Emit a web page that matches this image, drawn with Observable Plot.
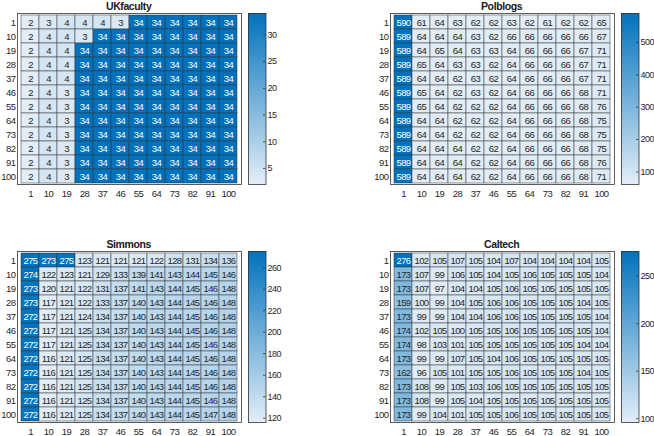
<!DOCTYPE html>
<html>
<head>
<meta charset="utf-8">
<script src="https://cdn.jsdelivr.net/npm/d3@7"></script>
<script src="https://cdn.jsdelivr.net/npm/@observablehq/plot@0.6"></script>
<style>
  html, body { margin: 0; padding: 0; background: #fff; }
  #wrap { position: relative; width: 654px; height: 436px; overflow: hidden; font-family: "Liberation Sans", Arial, sans-serif; }
  .panel { position: absolute; }
  .panel svg { max-width: none !important; }
  .title { position: absolute; font-weight: bold; font-size: 10.5px; letter-spacing: -0.4px; color: #1a1a1a; text-align: center; width: 200px; line-height: 12px; }
</style>
</head>
<body>
<div id="wrap"></div>
<script>
const labels = ["1","10","19","28","37","46","55","64","73","82","91","100"];

const ukfaculty = [
  [2,3,4,4,4,3,34,34,34,34,34,34],
  [2,4,4,3,34,34,34,34,34,34,34,34],
  [2,4,4,34,34,34,34,34,34,34,34,34],
  [2,4,4,34,34,34,34,34,34,34,34,34],
  [2,4,4,34,34,34,34,34,34,34,34,34],
  [2,4,3,34,34,34,34,34,34,34,34,34],
  [2,4,3,34,34,34,34,34,34,34,34,34],
  [2,4,3,34,34,34,34,34,34,34,34,34],
  [2,4,3,34,34,34,34,34,34,34,34,34],
  [2,4,3,34,34,34,34,34,34,34,34,34],
  [2,4,3,34,34,34,34,34,34,34,34,34],
  [2,4,3,34,34,34,34,34,34,34,34,34]
];
const polblogs = [
  [590,61,64,63,62,62,63,62,61,62,62,65],
  [589,64,64,64,63,62,66,66,66,66,66,67],
  [589,64,65,64,63,63,64,66,66,66,67,71],
  [589,65,64,63,63,62,64,66,66,66,67,71],
  [589,64,64,62,63,62,64,66,66,66,67,71],
  [589,65,64,62,63,62,64,66,66,66,68,71],
  [589,65,64,62,62,62,64,66,66,66,68,76],
  [589,64,64,62,62,62,64,66,66,66,68,75],
  [589,64,64,62,62,62,64,66,66,66,68,75],
  [589,64,64,64,62,62,64,66,66,66,68,75],
  [589,64,64,64,62,62,64,66,66,66,68,76],
  [589,64,64,64,62,62,64,66,66,66,68,71]
];
const simmons = [
  [275,273,275,123,121,121,121,122,128,131,134,136],
  [274,122,123,121,129,133,139,141,143,144,145,146],
  [273,120,121,122,131,137,141,143,144,145,146,148],
  [273,117,121,122,133,137,140,143,144,145,146,148],
  [272,117,121,124,134,137,140,143,144,145,146,148],
  [272,117,121,125,134,137,140,143,144,145,146,148],
  [272,117,121,125,134,137,140,143,144,145,146,148],
  [272,116,121,125,134,137,140,143,144,145,146,148],
  [272,116,121,125,134,137,140,143,144,145,146,148],
  [272,116,121,125,134,137,140,143,144,145,146,148],
  [272,116,121,125,134,137,140,143,144,145,146,148],
  [272,116,121,125,134,137,140,143,144,145,147,148]
];
const caltech = [
  [276,102,105,107,105,104,107,104,104,104,104,105],
  [173,107,99,106,105,104,105,106,105,105,105,104],
  [173,107,97,104,104,105,106,105,105,105,105,105],
  [159,100,99,104,105,106,106,105,105,105,104,105],
  [173,99,99,104,104,106,106,105,105,105,105,104],
  [174,102,105,100,105,105,106,105,105,105,105,104],
  [174,98,103,101,105,105,105,105,105,105,104,104],
  [173,99,99,107,105,104,106,105,105,105,105,105],
  [162,96,105,101,105,105,106,105,105,105,104,105],
  [173,108,99,105,103,106,105,105,105,105,105,105],
  [173,108,99,105,104,105,105,105,105,105,105,105],
  [173,99,104,101,105,105,106,105,105,105,105,105]
];

const ukTicks = [5,10,15,20,25,30];
const polTicks = [100,200,300,400,500];
const simTicks = [120,140,160,180,200,220,240,260];
const calTicks = [100,150,200,250];

const LIGHT = "#e2edf7", DARK = "#0072bd";
const FONT = "'Liberation Sans', Arial, sans-serif";
const wrap = document.getElementById("wrap");

function panel(title, matrix, ticks, left, top) {
  const cells = [];
  matrix.forEach((row, i) => row.forEach((v, j) => cells.push({r: labels[i], c: labels[j], v})));
  const vals = cells.map(d => d.v);
  const lo = d3.min(vals), hi = d3.max(vals);
  const colorOpts = {type: "linear", domain: [lo, hi], range: [LIGHT, DARK], interpolate: "rgb"};
  const isDark = d => (d.v - lo) / (hi - lo) > 0.6;
  const W = 224, H = 171;
  const mL = 30, mT = 14, mB = 24, mR = 2;
  const style = {fontFamily: FONT, fontSize: "9.5px", letterSpacing: "-0.55px", color: "#262626", background: "transparent", overflow: "visible", maxWidth: "none"};

  const heat = Plot.plot({
    width: W + mL + mR, height: H + mT + mB,
    marginLeft: mL, marginRight: mR, marginTop: mT, marginBottom: mB,
    style,
    x: {type: "band", domain: labels, padding: 0, tickSize: 0, tickPadding: 6, label: null},
    y: {type: "band", domain: labels, padding: 0, tickSize: 0, tickPadding: 2, label: null},
    color: colorOpts,
    marks: [
      Plot.cell(cells, {x: "c", y: "r", fill: "v", stroke: "#3a3a3a", strokeWidth: 0.6, strokeOpacity: 0.85}),
      Plot.text(cells.filter(isDark), {x: "c", y: "r", text: d => String(d.v), fill: "white", fontSize: 9.5}),
      Plot.text(cells.filter(d => !isDark(d)), {x: "c", y: "r", text: d => String(d.v), fill: "#262626", fontSize: 9.5}),
      Plot.frame({stroke: "#333", strokeWidth: 0.8})
    ]
  });
  const hd = document.createElement("div");
  hd.className = "panel";
  hd.style.left = (left - mL) + "px";
  hd.style.top = (top - mT) + "px";
  hd.style.width = (W + mL + mR) + "px";
  hd.appendChild(heat);
  wrap.appendChild(hd);

  // colorbar gradient
  const N = 171;
  const steps = d3.range(0, N).map(k => lo + (hi - lo) * k / N);
  const dv = (hi - lo) / N;
  const cbW = 17.5, cbR = 26, cbT = 14, cbB = 10;
  const cb = Plot.plot({
    width: cbW + cbR, height: H + cbT + cbB,
    marginLeft: 0, marginRight: cbR, marginTop: cbT, marginBottom: cbB,
    style: {...style, fontSize: "9px"},
    x: {domain: [0, 1], axis: null},
    y: {domain: [lo, hi], axis: null},
    color: colorOpts,
    marks: [
      Plot.rect(steps, {x1: 0, x2: 1, y1: d => d, y2: d => Math.min(hi, d + dv * 1.5), fill: d => d, shapeRendering: "crispEdges"}),
      Plot.ruleY(ticks, {x1: 0.86, x2: 1, stroke: "#333", strokeWidth: 0.8}),
      Plot.axisY(ticks, {anchor: "right", tickSize: 0, tickPadding: 1.5, label: null}),
      Plot.frame({stroke: "#333", strokeWidth: 0.8})
    ]
  });
  const cd = document.createElement("div");
  cd.className = "panel";
  cd.style.left = (left + 231.5) + "px";
  cd.style.top = (top - cbT) + "px";
  cd.style.width = (cbW + cbR) + "px";
  cd.appendChild(cb);
  wrap.appendChild(cd);

  const t = document.createElement("div");
  t.className = "title";
  t.textContent = title;
  t.style.left = (left + W / 2 - 100) + "px";
  t.style.top = (top - 13) + "px";
  wrap.appendChild(t);
}

panel("UKfaculty", ukfaculty, ukTicks, 16.7, 13.3);
panel("Polblogs", polblogs, polTicks, 389.6, 13.3);
panel("Simmons", simmons, simTicks, 16.7, 250.7);
panel("Caltech", caltech, calTicks, 389.6, 250.7);
</script>
</body>
</html>
